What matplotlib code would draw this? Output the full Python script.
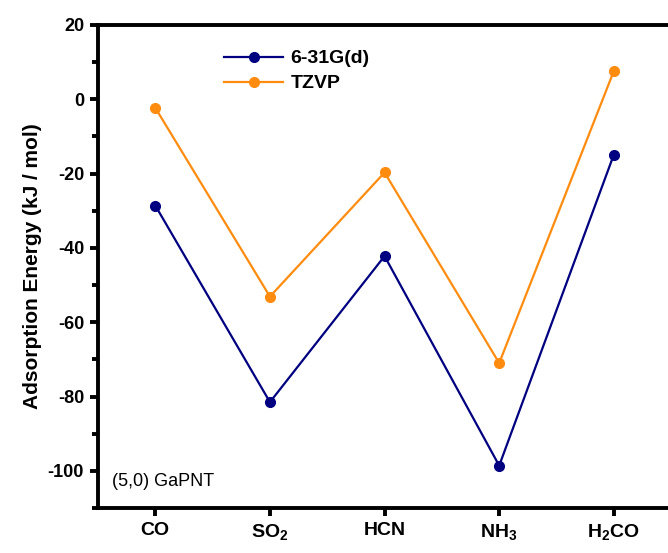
import matplotlib
matplotlib.use("Agg")
import matplotlib.pyplot as plt
from matplotlib.ticker import MultipleLocator

plt.rcParams['font.family'] = ['Liberation Sans', 'DejaVu Sans']
plt.rcParams['axes.unicode_minus'] = False
plt.rcParams['mathtext.fontset'] = 'custom'
plt.rcParams['mathtext.rm'] = 'Liberation Sans'
plt.rcParams['mathtext.bf'] = 'Liberation Sans:bold'
plt.rcParams['mathtext.default'] = 'bf'

# adsorption energies on the (5,0) GaP nanotube
molecules = ['CO', 'SO$_2$', 'HCN', 'NH$_3$', 'H$_2$CO']
e_631g = [-28.6, -81.5, -42.2, -98.6, -14.9]
e_tzvp = [-2.3, -53.1, -19.7, -71.0, 7.6]

x = list(range(1, len(molecules) + 1))

fig = plt.figure(figsize=(6.68, 5.53), dpi=100)
ax = fig.add_axes([0.1467, 0.0814, 0.858, 0.8734])

ax.plot(x, e_631g, color='#000080', lw=1.6, marker='o', ms=7, label='6-31G(d)')
ax.plot(x, e_tzvp, color='#FF8C0F', lw=1.6, marker='o', ms=7, label='TZVP')

ax.set_xlim(0.5, 5.5)
ax.set_ylim(-110, 20)
ax.set_xticks(x)
ax.set_xticklabels(molecules, fontsize=14, fontweight='bold')
ax.yaxis.set_major_locator(MultipleLocator(20))
ax.yaxis.set_minor_locator(MultipleLocator(10))
for lab in ax.get_yticklabels():
    lab.set_fontweight('bold')
    lab.set_fontsize(13)

ax.set_ylabel('Adsorption Energy (kJ / mol)', fontsize=15, fontweight='bold', labelpad=4)

for side in ['left', 'bottom', 'top']:
    ax.spines[side].set_linewidth(2.8)
ax.spines['right'].set_visible(False)
ax.tick_params(axis='both', which='major', direction='out', length=6, width=2.8, pad=4)
ax.tick_params(axis='y', which='minor', direction='out', length=4, width=2.8)

ax.text(0.025, 0.045, '(5,0) GaPNT', transform=ax.transAxes, fontsize=13)

ax.legend(loc='upper left', bbox_to_anchor=(0.19, 0.985), frameon=False,
          prop={'size': 14, 'weight': 'bold'}, handlelength=3.0,
          handletextpad=0.4, labelspacing=0.38)

fig.savefig('out.png', dpi=100)
